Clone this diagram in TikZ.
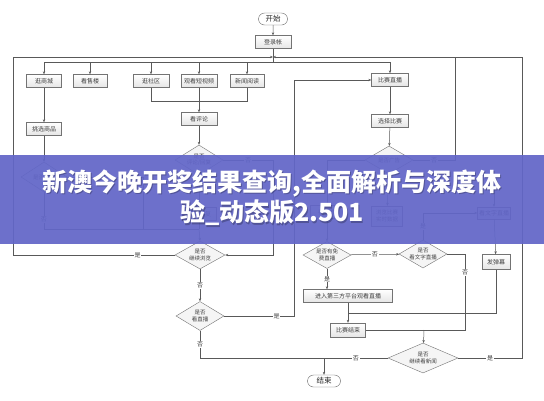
\documentclass[tikz,border=0pt]{standalone}
\usepackage{fontspec}
\newfontfamily\cjk{Noto Sans CJK SC}
\usetikzlibrary{shapes.geometric,shapes.misc,arrows.meta,shadows}
\definecolor{bannerblue}{RGB}{98,102,200}
\begin{document}
\begin{tikzpicture}[x=1pt,y=-1pt,
  every node/.style={font=\cjk\fontsize{6}{7}\selectfont, text=black!75},
  box/.style={draw=black!55, top color=white, bottom color=black!10, minimum height=13pt, inner sep=1pt,
     drop shadow={shadow xshift=0.7pt,shadow yshift=-0.7pt,fill=black!40,opacity=0.6}},
  term/.style={rounded rectangle, draw=black!60, fill=white, minimum height=12pt, inner sep=1pt,
     font=\cjk\fontsize{7.5}{8}\selectfont, text=black!85},
  dia/.style={diamond, draw=black!55, fill=black!4, inner sep=0pt},
  dlab/.style={align=center, inner sep=0pt, font=\cjk\fontsize{5.5}{6.5}\selectfont},
  lab/.style={fill=white, inner sep=0.8pt},
  ln/.style={draw=black!65, line width=0.5pt},
  arr/.style={ln, -{Stealth[length=3pt,width=2.4pt]}},
  btext/.style={text=white, font=\cjk\bfseries\fontsize{25}{28}\selectfont, inner sep=0pt},
  bshadow/.style={text=black, opacity=0.25, font=\cjk\bfseries\fontsize{25}{28}\selectfont, inner sep=0pt}
]
\useasboundingbox (0,0) rectangle (544,400);
\fill[white] (0,0) rectangle (544,400);

% ---- nodes ----
\node[term, minimum width=31pt] (start) at (273,19) {开始};
\node[box, minimum width=36pt] (login) at (273,42) {登录帐};
\coordinate (J0) at (273,62);
\coordinate (J1) at (273,57);

\node[box, minimum width=35pt] (b1) at (44,81) {逛商城};
\node[box, minimum width=34pt] (b2) at (90,81) {看售楼};
\node[box, minimum width=36pt] (b3) at (151,81) {逛社区};
\node[box, minimum width=36pt] (b4) at (199,81) {观看短视频};
\node[box, minimum width=34pt] (b5) at (247,81) {新闻阅读};
\node[box, minimum width=37pt] (live) at (390,80) {比赛直播};

\node[box, minimum width=35pt] (pick) at (44,129) {挑选商品};
\node[box, minimum width=36pt] (cmt) at (199,119) {看评论};
\node[box, minimum width=37pt] (pickm) at (390,121) {选择比赛};

\node[dia, minimum width=46pt, minimum height=30pt, label={[dlab]center:是否购买}] (dbuy) at (44,177) {};
\node[dia, minimum width=48pt, minimum height=30pt, label={[dlab]center:{是否\\评论/回复}}] (drep) at (199,160) {};
\node[dia, minimum width=48pt, minimum height=28pt, label={[dlab]center:是否广告}] (dad) at (389,160) {};

\node[box, minimum width=34pt] (rep) at (199,214) {评论回复};
\node[box, minimum width=34pt] (watchb) at (327,212) {看直播};
\node[box, minimum width=31pt, minimum height=20pt, align=center, font=\cjk\fontsize{5.5}{7}\selectfont] (data) at (387,216) {浏览比赛\\实时数据};
\node[box, minimum width=33pt, minimum height=12pt] (textb) at (494,213) {看文字直播};
\coordinate (T0) at (494,188);

\node[dia, minimum width=50pt, minimum height=28pt, label={[dlab]center:{是否\\继续浏览}}] (dcont) at (200,255) {};
\node[dia, minimum width=48pt, minimum height=27pt, label={[dlab]center:{是否有免\\费直播}}] (dfree) at (327,255) {};
\node[dia, minimum width=48pt, minimum height=28pt, label={[dlab]center:{是否\\看文字直播}}] (dtext) at (423,254) {};
\node[box, minimum width=28pt, minimum height=15pt] (danmu) at (496,262) {发弹幕};

\node[box, minimum width=89pt] (third) at (348,296) {进入第三方平台观看直播};
\node[dia, minimum width=48pt, minimum height=29pt, label={[dlab]center:{是否\\看直播}}] (dwatch) at (200,316) {};
\node[box, minimum width=35pt, minimum height=14pt] (over) at (348,330) {比赛结束};
\node[dia, minimum width=70pt, minimum height=30pt, label={[dlab]center:{是否\\继续看新闻}}] (dnews) at (423,358) {};
\node[term, minimum width=35pt] (end) at (324,381) {结束};

% ---- connectors ----
\draw[arr] (start) -- (login);
\draw[ln] (login) -- (J0);
\draw[arr] (J0) -| (b1);
\draw[arr] (J0) -| (live);
\draw[arr] (b2 |- J0) -- (b2);
\draw[arr] (b3 |- J0) -- (b3);
\draw[arr] (b4 |- J0) -- (b4);
\draw[arr] (b5 |- J0) -- (b5);

\draw[arr] (b1) -- (pick);
\draw[arr] (pick) -- (dbuy);
\draw[ln] (b3) -- (151,101) -- (247,101) -- (b5);
\draw[arr] (b4) -- (cmt);
\draw[arr] (cmt) -- (drep);
\draw[arr] (drep) -- (rep);
\draw[arr] (drep.east) -- node[lab]{否} (273,160) -- (273,255) -- (dcont.east);
\draw[ln] (dbuy.south) -- node[lab,pos=0.75]{否} (44,229) -- (199,229);
\draw[ln] (dbuy.east) -- (143,177) -- (143,229);
\draw[ln] (rep) -- (199,229);
\draw[arr] (199,229) -- (dcont.north);
\draw[arr] (dcont.west) -- node[lab,pos=0.23]{是} (13,255) -- (13,57) -- (J1);
\draw[arr] (dcont) -- node[lab]{否} (dwatch);
\draw[arr] (dwatch.east) -- node[lab,pos=0.75]{是} (294,316) -- (294,80) -- (live.west);
\draw[ln] (dwatch.south) -- node[lab]{否} (200,358) -- (324,358);
\draw[ln] (dnews.west) -- node[lab]{否} (324,358);
\draw[arr] (324,358) -- (end);
\draw[arr] (dnews.east) -- node[lab]{是} (522,358) -- (522,57) -- (J1);

\draw[arr] (live) -- (pickm);
\draw[arr] (pickm) -- (dad);
\draw[ln] (dad.east) -- node[lab]{否} (455,160) -- (455,57);
\draw[arr] (dad) -- (data);
\draw[arr] (dad.west) -- (327,160) -- (watchb);
\draw[arr] (watchb) -- (dfree);
\draw[arr] (dfree) -- node[lab]{否} (dtext);
\draw[arr] (dtext.north) -- node[lab]{是} (423,213) -- (textb.west);
\draw[arr] (T0) -- (textb);
\draw[arr] (textb) -- (danmu);
\draw[arr] (dfree.south) -- node[lab]{是} (dfree.south |- third.north);
\draw[arr] (third) -- (over);
\draw[ln] (danmu.south) -- (496,313) -- (348,313);
\draw[ln] (dtext.east) -- (465,254) -- node[lab,pos=0.24]{否} (465,330) -- (over.east);
\draw[arr] (424,330) -- (dnews);

% ---- banner ----
\fill[bannerblue, opacity=0.93] (0,155) rectangle (544,244);
\node[bshadow] (s1) at (273.2,184.2) {新澳今晚开奖结果查询,全面解析与深度体};
\node[bshadow] (s2) at (273.2,214.2) {验\_动态版2.501};
\node[btext] (t1) at (272,183) {新澳今晚开奖结果查询,全面解析与深度体};
\node[btext] (t2) at (272,213) {验\_动态版2.501};
\end{tikzpicture}
\end{document}
